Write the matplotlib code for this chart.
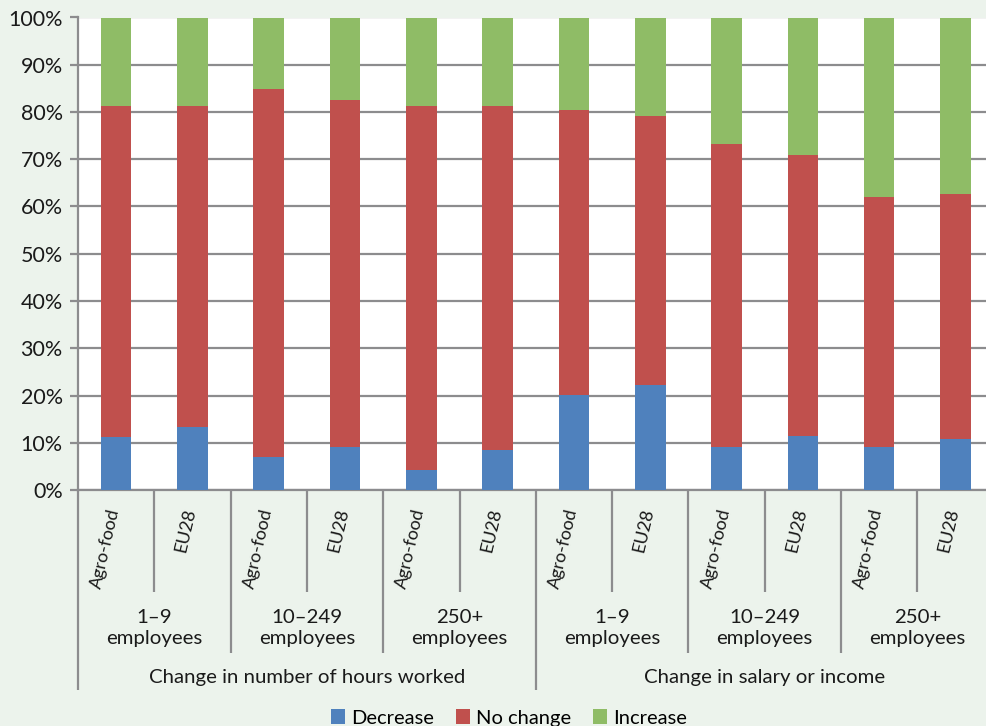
import matplotlib
matplotlib.use("Agg")
import matplotlib.pyplot as plt
from matplotlib.patches import Patch
import numpy as np

plt.rcParams['font.family'] = ['Lato', 'DejaVu Sans']

# Data
categories = ["Agro-food", "EU28"] * 6
size_groups = ["1–9\nemployees", "10–249\nemployees", "250+\nemployees"] * 2
measures = ["Change in number of hours worked", "Change in salary or income"]
decrease = [11.2, 13.3, 6.9, 9.0, 4.3, 8.4, 20.2, 22.2, 9.0, 11.4, 9.1, 10.7]
no_change_top = [81.3, 81.2, 84.9, 82.5, 81.2, 81.3, 80.5, 79.2, 73.3, 70.9, 62.1, 62.7]
no_change = [t - d for t, d in zip(no_change_top, decrease)]
increase = [100 - t for t in no_change_top]
series_names = ["Decrease", "No change", "Increase"]
colors = ["#4F81BD", "#C0504D", "#8FBC66"]
yticks = list(range(0, 101, 10))

bg = "#ECF3EC"
grid_c = "#8C8C8E"
txt_c = "#1a1a1a"

fig = plt.figure(figsize=(9.86, 7.26), dpi=100, facecolor=bg)
ax = fig.add_axes([78 / 986, 236 / 726, 915.6 / 986, 472.5 / 726])
ax.set_facecolor("white")

x = np.arange(len(categories))
ax.bar(x, decrease, width=0.4, color=colors[0], zorder=3)
ax.bar(x, no_change, width=0.4, bottom=decrease, color=colors[1], zorder=3)
ax.bar(x, increase, width=0.4, bottom=no_change_top, color=colors[2], zorder=3)

ax.set_xlim(-0.5, len(categories) - 0.5)
ax.set_ylim(0, 100)
ax.set_yticks(yticks)
ax.set_yticklabels([f"{v}%" for v in yticks], fontsize=15.5, color=txt_c)
ax.yaxis.grid(True, color=grid_c, linewidth=1.6, zorder=1)
ax.set_axisbelow(True)
ax.tick_params(axis="y", length=6, width=1.6, color=grid_c, pad=5)
ax.set_xticks([])
for s in ["top", "right"]:
    ax.spines[s].set_visible(False)
ax.spines["left"].set_color(grid_c)
ax.spines["left"].set_linewidth(1.6)
ax.spines["bottom"].set_color(grid_c)
ax.spines["bottom"].set_linewidth(1.6)

trans = ax.get_xaxis_transform()
axh = 472.5


def ay(py):
    # pixel row below the plot -> axes fraction
    return (490 - py) / axh


# separators of the three category levels
for b in range(len(categories) + 1):
    xb = b - 0.5
    if b % 6 == 0:
        yend = 690
    elif b % 2 == 0:
        yend = 653
    else:
        yend = 592
    ax.plot([xb, xb], [0, ay(yend)], transform=trans, color=grid_c,
            linewidth=1.6, clip_on=False, solid_capstyle="butt")

# category labels, slightly tilted
for i, c in enumerate(categories):
    ax.annotate(c, xy=(i, ay(507)), xycoords=trans, xytext=(4.5, 0),
                textcoords="offset points", rotation=77, ha="right", va="top",
                fontsize=13, color=txt_c)

for j, g in enumerate(size_groups):
    ax.text(2 * j + 0.5, ay(628), g, transform=trans, ha="center", va="center",
            fontsize=14.7, color=txt_c, linespacing=1.35)

for k, m in enumerate(measures):
    ax.text(6 * k + 2.5, ay(678), m, transform=trans, ha="center", va="center",
            fontsize=14.7, color=txt_c)

handles = [Patch(facecolor=c, edgecolor="none") for c in colors]
fig.legend(handles, series_names, loc="center", bbox_to_anchor=(509 / 986, 8 / 726),
           ncol=3, frameon=False, fontsize=14.5, handlelength=0.7, handleheight=0.7,
           handletextpad=0.3, columnspacing=1.1, borderaxespad=0)

fig.savefig("out.png", dpi=100, facecolor=bg)
